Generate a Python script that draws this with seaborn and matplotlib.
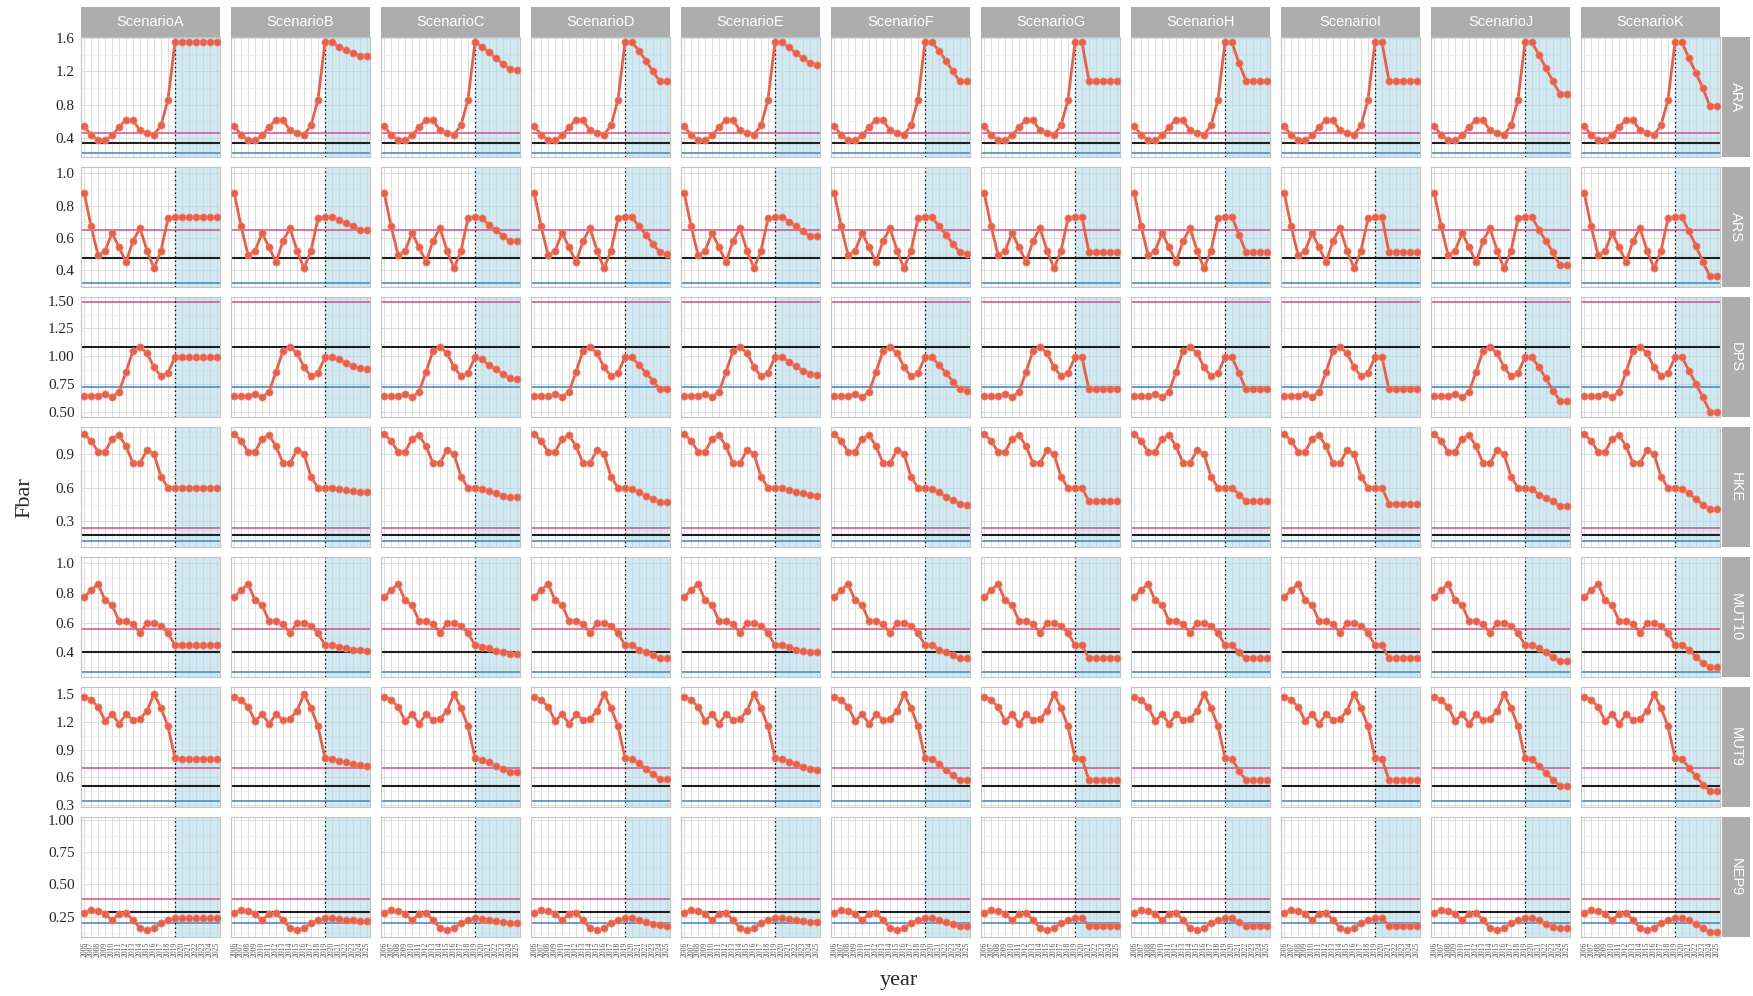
import numpy as np
import pandas as pd
import matplotlib
matplotlib.use("Agg")
import matplotlib.pyplot as plt
import seaborn as sns
from matplotlib.patches import Rectangle
from matplotlib.ticker import AutoMinorLocator, FormatStrFormatter

# ---------------- data ----------------
years = list(range(2006, 2026))
last_hist_year = 2019
scenarios = ["ScenarioA", "ScenarioB", "ScenarioC", "ScenarioD", "ScenarioE", "ScenarioF",
             "ScenarioG", "ScenarioH", "ScenarioI", "ScenarioJ", "ScenarioK"]
stocks = ["ARA", "ARS", "DPS", "HKE", "MUT10", "MUT9", "NEP9"]

# historical Fbar (2006-2019)
ARA_hist = [0.54, 0.44, 0.37, 0.37, 0.43, 0.53, 0.62, 0.61, 0.49, 0.46, 0.44, 0.55, 0.86, 1.55]
ARS_hist = [0.88, 0.67, 0.49, 0.52, 0.63, 0.54, 0.45, 0.58, 0.66, 0.52, 0.41, 0.52, 0.72, 0.73]
DPS_hist = [0.64, 0.64, 0.64, 0.66, 0.63, 0.68, 0.86, 1.05, 1.08, 1.03, 0.90, 0.82, 0.85, 0.99]
HKE_hist = [1.08, 1.02, 0.92, 0.92, 1.04, 1.07, 0.97, 0.82, 0.82, 0.94, 0.90, 0.70, 0.60, 0.60]
MUT10_hist = [0.77, 0.82, 0.86, 0.75, 0.72, 0.61, 0.61, 0.59, 0.53, 0.60, 0.60, 0.58, 0.53, 0.45]
MUT9_hist = [1.47, 1.44, 1.36, 1.21, 1.28, 1.18, 1.28, 1.22, 1.23, 1.32, 1.50, 1.35, 1.15, 0.81]
NEP9_hist = [0.28, 0.30, 0.29, 0.27, 0.22, 0.27, 0.28, 0.22, 0.16, 0.145, 0.16, 0.20, 0.22, 0.235]

# projections 2020-2025, one row per scenario A..K
ARA_proj = [
    [1.55, 1.55, 1.55, 1.55, 1.55, 1.55],
    [1.55, 1.50, 1.46, 1.42, 1.39, 1.39],
    [1.50, 1.43, 1.36, 1.29, 1.23, 1.22],
    [1.55, 1.45, 1.33, 1.20, 1.08, 1.08],
    [1.55, 1.49, 1.42, 1.36, 1.30, 1.28],
    [1.55, 1.45, 1.33, 1.20, 1.08, 1.08],
    [1.55, 1.09, 1.09, 1.09, 1.09, 1.09],
    [1.55, 1.30, 1.09, 1.09, 1.09, 1.09],
    [1.55, 1.09, 1.09, 1.09, 1.09, 1.09],
    [1.55, 1.40, 1.24, 1.08, 0.93, 0.93],
    [1.55, 1.36, 1.18, 1.00, 0.78, 0.78],
]
ARS_proj = [
    [0.73, 0.73, 0.73, 0.73, 0.73, 0.73],
    [0.73, 0.71, 0.69, 0.67, 0.65, 0.65],
    [0.72, 0.68, 0.65, 0.61, 0.58, 0.58],
    [0.73, 0.67, 0.62, 0.56, 0.51, 0.50],
    [0.73, 0.70, 0.67, 0.64, 0.61, 0.61],
    [0.73, 0.67, 0.62, 0.56, 0.51, 0.50],
    [0.73, 0.51, 0.51, 0.51, 0.51, 0.51],
    [0.73, 0.62, 0.51, 0.51, 0.51, 0.51],
    [0.73, 0.51, 0.51, 0.51, 0.51, 0.51],
    [0.73, 0.65, 0.58, 0.51, 0.43, 0.43],
    [0.73, 0.64, 0.55, 0.45, 0.36, 0.36],
]
DPS_proj = [
    [0.99, 0.99, 0.99, 0.99, 0.99, 0.99],
    [0.99, 0.97, 0.94, 0.91, 0.89, 0.88],
    [0.97, 0.92, 0.88, 0.84, 0.80, 0.79],
    [0.99, 0.92, 0.85, 0.78, 0.70, 0.70],
    [0.99, 0.95, 0.91, 0.87, 0.84, 0.83],
    [0.99, 0.92, 0.85, 0.77, 0.70, 0.69],
    [0.99, 0.70, 0.70, 0.70, 0.70, 0.70],
    [0.99, 0.85, 0.70, 0.70, 0.70, 0.70],
    [0.99, 0.70, 0.70, 0.70, 0.70, 0.70],
    [0.99, 0.90, 0.80, 0.69, 0.60, 0.60],
    [0.99, 0.87, 0.75, 0.63, 0.50, 0.50],
]
HKE_proj = [
    [0.60, 0.60, 0.60, 0.60, 0.60, 0.60],
    [0.60, 0.59, 0.58, 0.57, 0.56, 0.56],
    [0.59, 0.57, 0.55, 0.53, 0.52, 0.52],
    [0.59, 0.56, 0.53, 0.50, 0.47, 0.47],
    [0.60, 0.58, 0.56, 0.55, 0.54, 0.53],
    [0.59, 0.56, 0.52, 0.49, 0.46, 0.45],
    [0.60, 0.48, 0.48, 0.48, 0.48, 0.48],
    [0.60, 0.54, 0.48, 0.48, 0.48, 0.48],
    [0.60, 0.46, 0.46, 0.46, 0.46, 0.46],
    [0.59, 0.54, 0.51, 0.48, 0.44, 0.44],
    [0.59, 0.55, 0.50, 0.45, 0.41, 0.41],
]
MUT10_proj = [
    [0.45, 0.45, 0.45, 0.45, 0.45, 0.45],
    [0.45, 0.44, 0.43, 0.42, 0.42, 0.41],
    [0.44, 0.43, 0.41, 0.40, 0.39, 0.39],
    [0.45, 0.42, 0.40, 0.38, 0.36, 0.36],
    [0.45, 0.44, 0.42, 0.41, 0.40, 0.40],
    [0.45, 0.42, 0.40, 0.38, 0.36, 0.36],
    [0.45, 0.36, 0.36, 0.36, 0.36, 0.36],
    [0.45, 0.40, 0.36, 0.36, 0.36, 0.36],
    [0.45, 0.36, 0.36, 0.36, 0.36, 0.36],
    [0.45, 0.43, 0.40, 0.37, 0.34, 0.34],
    [0.45, 0.42, 0.37, 0.33, 0.30, 0.30],
]
MUT9_proj = [
    [0.80, 0.80, 0.80, 0.80, 0.80, 0.80],
    [0.80, 0.78, 0.76, 0.74, 0.73, 0.72],
    [0.79, 0.76, 0.72, 0.69, 0.66, 0.66],
    [0.80, 0.75, 0.69, 0.63, 0.58, 0.58],
    [0.80, 0.77, 0.74, 0.71, 0.69, 0.68],
    [0.80, 0.74, 0.68, 0.62, 0.57, 0.57],
    [0.80, 0.57, 0.57, 0.57, 0.57, 0.57],
    [0.80, 0.67, 0.57, 0.57, 0.57, 0.57],
    [0.80, 0.57, 0.57, 0.57, 0.57, 0.57],
    [0.80, 0.72, 0.65, 0.57, 0.51, 0.51],
    [0.80, 0.70, 0.61, 0.52, 0.45, 0.45],
]
NEP9_proj = [
    [0.235, 0.235, 0.235, 0.235, 0.235, 0.235],
    [0.235, 0.230, 0.225, 0.220, 0.215, 0.215],
    [0.230, 0.225, 0.215, 0.210, 0.200, 0.200],
    [0.235, 0.220, 0.210, 0.195, 0.185, 0.180],
    [0.235, 0.230, 0.220, 0.215, 0.210, 0.210],
    [0.235, 0.220, 0.205, 0.190, 0.180, 0.175],
    [0.235, 0.180, 0.180, 0.180, 0.180, 0.180],
    [0.235, 0.205, 0.180, 0.180, 0.180, 0.180],
    [0.235, 0.180, 0.180, 0.180, 0.180, 0.180],
    [0.235, 0.220, 0.190, 0.170, 0.160, 0.160],
    [0.235, 0.220, 0.190, 0.160, 0.130, 0.130],
]

# reference points per stock
ref_pink = [0.46, 0.65, 1.49, 0.24, 0.556, 0.70, 0.39]
ref_black = [0.337, 0.475, 1.084, 0.18, 0.40, 0.51, 0.289]
ref_blue = [0.224, 0.32, 0.72, 0.129, 0.27, 0.347, 0.198]

# y axis ticks per stock
y_ticks = [[0.4, 0.8, 1.2, 1.6], [0.4, 0.6, 0.8, 1.0], [0.5, 0.75, 1.0, 1.25, 1.5],
           [0.3, 0.6, 0.9], [0.4, 0.6, 0.8, 1.0], [0.3, 0.6, 0.9, 1.2, 1.5],
           [0.25, 0.5, 0.75, 1.0]]
y_fmt = ["%.1f", "%.1f", "%.2f", "%.1f", "%.1f", "%.1f", "%.2f"]
y_lims = [(0.17, 1.615), (0.294, 1.04), (0.452, 1.533), (0.072, 1.143),
          (0.235, 1.042), (0.278, 1.576), (0.091, 1.023)]

hist_all = [ARA_hist, ARS_hist, DPS_hist, HKE_hist, MUT10_hist, MUT9_hist, NEP9_hist]
proj_all = [ARA_proj, ARS_proj, DPS_proj, HKE_proj, MUT10_proj, MUT9_proj, NEP9_proj]

rows = []
for si, st in enumerate(stocks):
    for ci, sc in enumerate(scenarios):
        vals = hist_all[si] + proj_all[si][ci]
        for y, v in zip(years, vals):
            rows.append({"stock": st, "scenario": sc, "year": y, "Fbar": v})
df = pd.DataFrame(rows)

# ---------------- style ----------------
sns.set_theme(style="white")
plt.rcParams["font.family"] = ["Liberation Serif", "DejaVu Serif"]

LINE_COL = "#e6604a"
PINK = "#d45b95"
BLACK = "#1e1e1e"
BLUE = "#4a8cc2"
STRIP = "#adadad"
BORDER = "#c4c4c4"

fig, axes = plt.subplots(len(stocks), len(scenarios), figsize=(17.53, 9.96), dpi=100,
                         sharex=True, sharey="row")
fig.subplots_adjust(left=0.0462, right=0.9812, top=0.9629, bottom=0.0592,
                    wspace=0.079, hspace=0.083)

x0, x1 = years[0] - 0.45, years[-1] + 0.45

for si, st in enumerate(stocks):
    for ci, sc in enumerate(scenarios):
        ax = axes[si, ci]
        sub = df[(df.stock == st) & (df.scenario == sc)]
        ax.set_facecolor("white")
        ax.set_axisbelow(True)
        ax.axvspan(last_hist_year, x1, color="#add8e6", alpha=0.55, lw=0, zorder=1)
        ax.axhline(ref_pink[si], color=PINK, lw=1.2, zorder=2)
        ax.axhline(ref_black[si], color=BLACK, lw=1.5, zorder=2)
        ax.axhline(ref_blue[si], color=BLUE, lw=1.2, zorder=2)
        ax.axvline(last_hist_year, color="black", lw=0.9, ls=(0, (1.2, 2.2)), zorder=2)
        sns.lineplot(data=sub, x="year", y="Fbar", ax=ax, color=LINE_COL, lw=2.0,
                     marker="o", markersize=5.2, markeredgewidth=0.5,
                     markeredgecolor="#f08a76", markerfacecolor=LINE_COL,
                     legend=False, zorder=3)
        ax.set_xlabel("")
        ax.set_ylabel("")
        ax.set_xlim(x0, x1)
        ax.set_xticks(years)
        ax.grid(True, which="major", axis="x", color="#d8d8d8", lw=0.6)
        ax.grid(True, which="major", axis="y", color="#d8d8d8", lw=0.6)
        ax.grid(True, which="minor", axis="y", color="#ebebeb", lw=0.45)
        for sp in ax.spines.values():
            sp.set_color(BORDER)
            sp.set_linewidth(0.8)
        if ci == 0:
            ax.set_ylim(*y_lims[si])
            ax.set_yticks(y_ticks[si])
            ax.yaxis.set_minor_locator(AutoMinorLocator(2))
            ax.yaxis.set_major_formatter(FormatStrFormatter(y_fmt[si]))
        ax.tick_params(axis="y", which="major", length=2.5 if ci == 0 else 0,
                       color="#b3b3b3", labelsize=11, pad=2)
        ax.tick_params(axis="y", which="minor", length=0)
        ax.tick_params(axis="x", which="major", length=2 if si == len(stocks) - 1 else 0,
                       color="#b3b3b3", labelsize=5.5, pad=1.5)
        if si == len(stocks) - 1:
            ax.set_xticklabels([str(y) for y in years], rotation=90, color="#555555")
        # strips
        if si == 0:
            ax.add_patch(Rectangle((0, 1.0), 1, 0.25, transform=ax.transAxes,
                                   facecolor=STRIP, edgecolor="none", clip_on=False, zorder=5))
            ax.text(0.5, 1.125, sc, transform=ax.transAxes, ha="center", va="center",
                    color="white", fontsize=10.5, family=["Liberation Sans", "DejaVu Sans"],
                    zorder=6)
        if ci == len(scenarios) - 1:
            ax.add_patch(Rectangle((1.012, 0), 0.205, 1, transform=ax.transAxes,
                                   facecolor=STRIP, edgecolor="none", clip_on=False, zorder=5))
            ax.text(1.1145, 0.5, st, transform=ax.transAxes, ha="center", va="center",
                    rotation=-90, color="white", fontsize=10.5,
                    family=["Liberation Sans", "DejaVu Sans"], zorder=6)

fig.text(0.0143, 0.5, "Fbar", rotation=90, ha="center", va="center", fontsize=16)
fig.text(0.513, 0.016, "year", ha="center", va="center", fontsize=16)

fig.savefig("out.png", dpi=100)
